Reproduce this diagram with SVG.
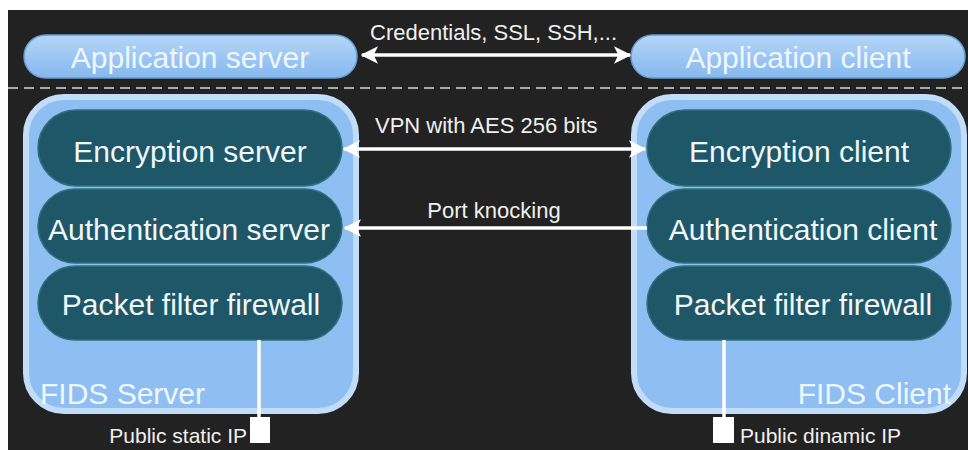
<svg xmlns="http://www.w3.org/2000/svg" width="968" height="450" viewBox="0 0 968 450">
<defs>
<linearGradient id="appg" x1="0" y1="0" x2="0" y2="1">
<stop offset="0" stop-color="#b4d6f8"/>
<stop offset="1" stop-color="#86b8ee"/>
</linearGradient>
<marker id="ah" viewBox="0 0 12 12" refX="11" refY="6" markerWidth="5" markerHeight="5" orient="auto-start-reverse" markerUnits="strokeWidth">
<path d="M0,0 L12,6 L0,12 L3,6 Z" fill="#ffffff"/>
</marker>
</defs>
<style>
text{font-family:"Liberation Sans",Arial,sans-serif;}
.app{fill:url(#appg);stroke:#6a9ad0;stroke-width:1.5;}
.box{fill:#8fbff2;stroke:#c2ddf9;stroke-width:6;}
.pill{fill:#1d5768;stroke:#2f6f80;stroke-width:1.5;}
.big{font-size:30px;fill:#f2f6f8;text-anchor:middle;}
.appt{font-size:30px;fill:#eef6ff;text-anchor:middle;}
.fids{font-size:30px;fill:#eef6ff;}
.lbl{font-size:22px;fill:#f0f0f0;}
.ip{font-size:21px;fill:#f0f0f0;}
.conn{stroke:#ffffff;stroke-width:3.5;fill:none;}
</style>
<rect x="0" y="0" width="968" height="450" fill="#ffffff"/>
<rect x="8" y="10" width="960" height="440" fill="#232222"/>
<line x1="8" y1="88" x2="968" y2="88" stroke="#a8a8a8" stroke-width="2" stroke-dasharray="10,6"/>

<g id="app-server">
<rect class="app" x="24" y="35" width="333" height="43" rx="21.5"/>
<text class="appt" x="190" y="68">Application server</text>
</g>
<g id="app-client">
<rect class="app" x="631" y="35" width="334" height="43" rx="21.5"/>
<text class="appt" x="798" y="68">Application client</text>
</g>

<g id="fids-server">
<rect class="box" x="26" y="97" width="330" height="314" rx="38"/>
<text class="fids" x="40" y="404">FIDS Server</text>
</g>
<g id="fids-client">
<rect class="box" x="634" y="97" width="330" height="314" rx="38"/>
<text class="fids" x="951" y="404" text-anchor="end">FIDS Client</text>
</g>

<g id="enc-server">
<rect class="pill" x="38" y="110" width="304" height="76" rx="38"/>
<text class="big" x="190" y="162">Encryption server</text>
</g>
<g id="auth-server">
<rect class="pill" x="38" y="189" width="304" height="74" rx="37"/>
<text class="big" x="189" y="240">Authentication server</text>
</g>
<g id="pf-server">
<rect class="pill" x="38" y="266" width="304" height="74" rx="37"/>
<text class="big" x="191" y="315">Packet filter firewall</text>
</g>

<g id="enc-client">
<rect class="pill" x="647" y="110" width="304" height="76" rx="38"/>
<text class="big" x="799" y="162">Encryption client</text>
</g>
<g id="auth-client">
<rect class="pill" x="647" y="189" width="304" height="74" rx="37"/>
<text class="big" x="803" y="240">Authentication client</text>
</g>
<g id="pf-client">
<rect class="pill" x="647" y="266" width="304" height="74" rx="37"/>
<text class="big" x="803" y="315">Packet filter firewall</text>
</g>

<g id="ip-server">
<rect x="250" y="417" width="20" height="26" fill="#ffffff"/>
<text class="ip" x="247" y="443" text-anchor="end">Public static IP</text>
</g>
<g id="ip-client">
<rect x="713" y="417" width="21" height="26" fill="#ffffff"/>
<text class="ip" x="740" y="443">Public dinamic IP</text>
</g>

<g id="connectors">
<line class="conn" x1="362" y1="55" x2="630" y2="55" marker-start="url(#ah)" marker-end="url(#ah)"/>
<text class="lbl" x="370" y="40">Credentials, SSL, SSH,...</text>
<line class="conn" x1="344" y1="149" x2="645" y2="149" marker-start="url(#ah)" marker-end="url(#ah)"/>
<text class="lbl" x="375" y="133">VPN with AES 256 bits</text>
<line class="conn" x1="647" y1="228" x2="345" y2="228" marker-end="url(#ah)"/>
<text class="lbl" x="494" y="218" text-anchor="middle">Port knocking</text>
<line class="conn" x1="259" y1="340" x2="259" y2="420"/>
<line class="conn" x1="724" y1="340" x2="724" y2="420"/>
</g>
</svg>
